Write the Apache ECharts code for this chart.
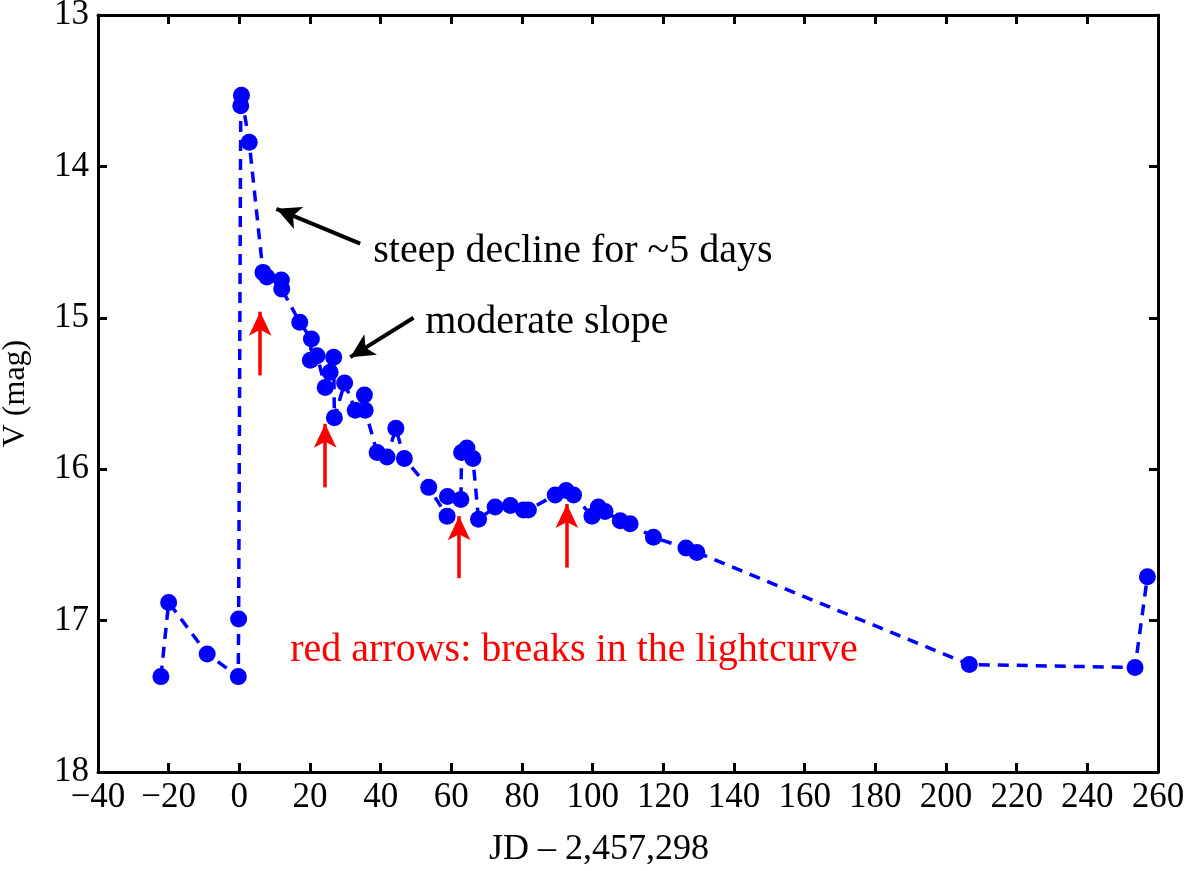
<!DOCTYPE html>
<html>
<head>
<meta charset="utf-8">
<script src="https://cdn.jsdelivr.net/npm/echarts@6/dist/echarts.min.js"></script>
<style>html,body{margin:0;padding:0;background:#fff}#c{width:1200px;height:871px}</style>
</head>
<body>
<div id="c"></div>
<script>
// Julian date offsets (JD - 2,457,298) and V magnitudes
var jd = [-22.2, -20.0, -9.1, -0.3, -0.2, 0.4, 0.6, 2.8, 6.7, 7.8, 11.9, 12.0, 17.1, 20.4, 20.1, 22.0, 24.3, 25.7, 26.7, 26.9, 29.8, 32.8, 35.4, 35.6, 39.0, 41.8, 44.3, 46.7, 53.6, 58.8, 58.9, 62.7, 62.9, 64.4, 66.1, 67.7, 72.4, 76.7, 80.4, 81.8, 89.4, 92.5, 94.6, 99.8, 101.6, 103.5, 107.8, 110.6, 117.2, 126.4, 129.5, 206.6, 253.5, 257.0];
var vmag = [17.37, 16.88, 17.22, 17.37, 16.99, 13.60, 13.53, 13.84, 14.70, 14.73, 14.75, 14.81, 15.03, 15.14, 15.28, 15.25, 15.46, 15.36, 15.26, 15.66, 15.43, 15.61, 15.51, 15.61, 15.89, 15.92, 15.73, 15.93, 16.12, 16.31, 16.18, 16.20, 15.89, 15.86, 15.93, 16.33, 16.25, 16.24, 16.27, 16.27, 16.17, 16.14, 16.17, 16.31, 16.25, 16.28, 16.34, 16.36, 16.45, 16.52, 16.55, 17.29, 17.31, 16.71];

// red arrows (breaks): x, tail y, tip y
var breakX = [5.9, 24.3, 62.2, 92.7];
var breakTail = [15.38, 16.12, 16.72, 16.65];
var breakTip = [14.96, 15.70, 16.31, 16.23];

// black annotation arrows
var noteArrowTail = [[34.2, 14.51], [49.3, 15.00]];
var noteArrowTip = [[10.5, 14.28], [31.4, 15.26]];
var noteText = ['steep decline for ~5 days', 'moderate slope'];
var notePos = [[37.9, 14.56], [52.6, 15.03]];
var redText = 'red arrows: breaks in the lightcurve';
var redTextPos = [14.4, 17.20];

var xTicksMin = -40, xTicksMax = 260, xStep = 20;
var yTicksMin = 13, yTicksMax = 18, yStep = 1;

var FONT = 'Liberation Serif';
var FS_TICK = 35;
var FS_NOTE = 40;

var pts = jd.map(function (x, i) { return [x, vmag[i]]; });

var chart = echarts.init(document.getElementById('c'));

function axisCommon() {
  return {
    axisLine: { show: true, onZero: false, lineStyle: { color: '#000', width: 3 } },
    axisTick: { show: true, inside: true, length: 9, lineStyle: { color: '#000', width: 3 } },
    splitLine: { show: false }
  };
}

var minus = function (v) { return String(v).replace('-', '\u2212'); };

var xb = Object.assign(axisCommon(), {
  type: 'value', position: 'bottom', min: xTicksMin, max: xTicksMax, interval: xStep,
  axisLabel: { color: '#000', fontFamily: FONT, fontSize: FS_TICK, margin: 8, formatter: minus },
  name: 'JD \u2013 2,457,298', nameLocation: 'middle', nameGap: 60,
  nameTextStyle: { color: '#000', fontFamily: FONT, fontSize: 36, padding: [0, 58, 0, 0] }
});
var xt = Object.assign(axisCommon(), {
  type: 'value', position: 'top', min: xTicksMin, max: xTicksMax, interval: xStep,
  axisLabel: { show: false }
});
var yl = Object.assign(axisCommon(), {
  type: 'value', position: 'left', inverse: true, min: yTicksMin, max: yTicksMax, interval: yStep,
  axisLabel: { color: '#000', fontFamily: FONT, fontSize: FS_TICK, margin: 9 },
  name: 'V (mag)', nameLocation: 'middle', nameGap: 66, nameRotate: 90,
  nameTextStyle: { color: '#000', fontFamily: FONT, fontSize: 32 }
});
var yr = Object.assign(axisCommon(), {
  type: 'value', position: 'right', inverse: true, min: yTicksMin, max: yTicksMax, interval: yStep,
  axisLabel: { show: false }
});

var redLines = breakX.map(function (x, i) {
  return [{ coord: [x, breakTail[i]], symbol: 'none' }, { coord: [x, breakTip[i]], symbol: 'arrow' }];
});
var blackLines = noteArrowTail.map(function (t, i) {
  return [{ coord: t, symbol: 'none' }, { coord: noteArrowTip[i], symbol: 'arrow' }];
});

chart.setOption({
  animation: false,
  backgroundColor: '#fff',
  grid: { left: 98, right: 42, top: 15, bottom: 99, containLabel: false, outerBoundsMode: 'none' },
  xAxis: [xb, xt],
  yAxis: [yl, yr],
  series: [
    {
      type: 'line', xAxisIndex: 0, yAxisIndex: 0, data: pts,
      symbol: 'circle', symbolSize: 17, showSymbol: true,
      itemStyle: { color: '#0000ff' },
      lineStyle: { color: '#0000ff', width: 3.5, type: [11, 8] },
      z: 3
    },
    {
      type: 'line', xAxisIndex: 0, yAxisIndex: 0, data: [], silent: true,
      markLine: {
        silent: true, animation: false, symbolSize: [17, 24],
        label: { show: false },
        lineStyle: { color: '#ff0000', width: 3.5, type: 'solid' },
        emphasis: { disabled: true },
        data: redLines
      }
    },
    {
      type: 'line', xAxisIndex: 0, yAxisIndex: 0, data: [], silent: true,
      markLine: {
        silent: true, animation: false, symbolSize: [18, 24],
        label: { show: false },
        lineStyle: { color: '#000', width: 4, type: 'solid' },
        emphasis: { disabled: true },
        data: blackLines
      }
    }
  ]
});

var g = [];
noteText.forEach(function (t, i) {
  var p = chart.convertToPixel({ xAxisIndex: 0, yAxisIndex: 0 }, notePos[i]);
  g.push({ type: 'text', x: p[0], y: p[1], style: { text: t, fill: '#000', font: FS_NOTE + 'px "' + FONT + '"', textVerticalAlign: 'middle', textAlign: 'left' } });
});
var rp = chart.convertToPixel({ xAxisIndex: 0, yAxisIndex: 0 }, redTextPos);
g.push({ type: 'text', x: rp[0], y: rp[1], style: { text: redText, fill: '#ff0000', font: FS_NOTE + 'px "' + FONT + '"', textVerticalAlign: 'middle', textAlign: 'left' } });
chart.setOption({ graphic: g });
</script>
</body>
</html>
